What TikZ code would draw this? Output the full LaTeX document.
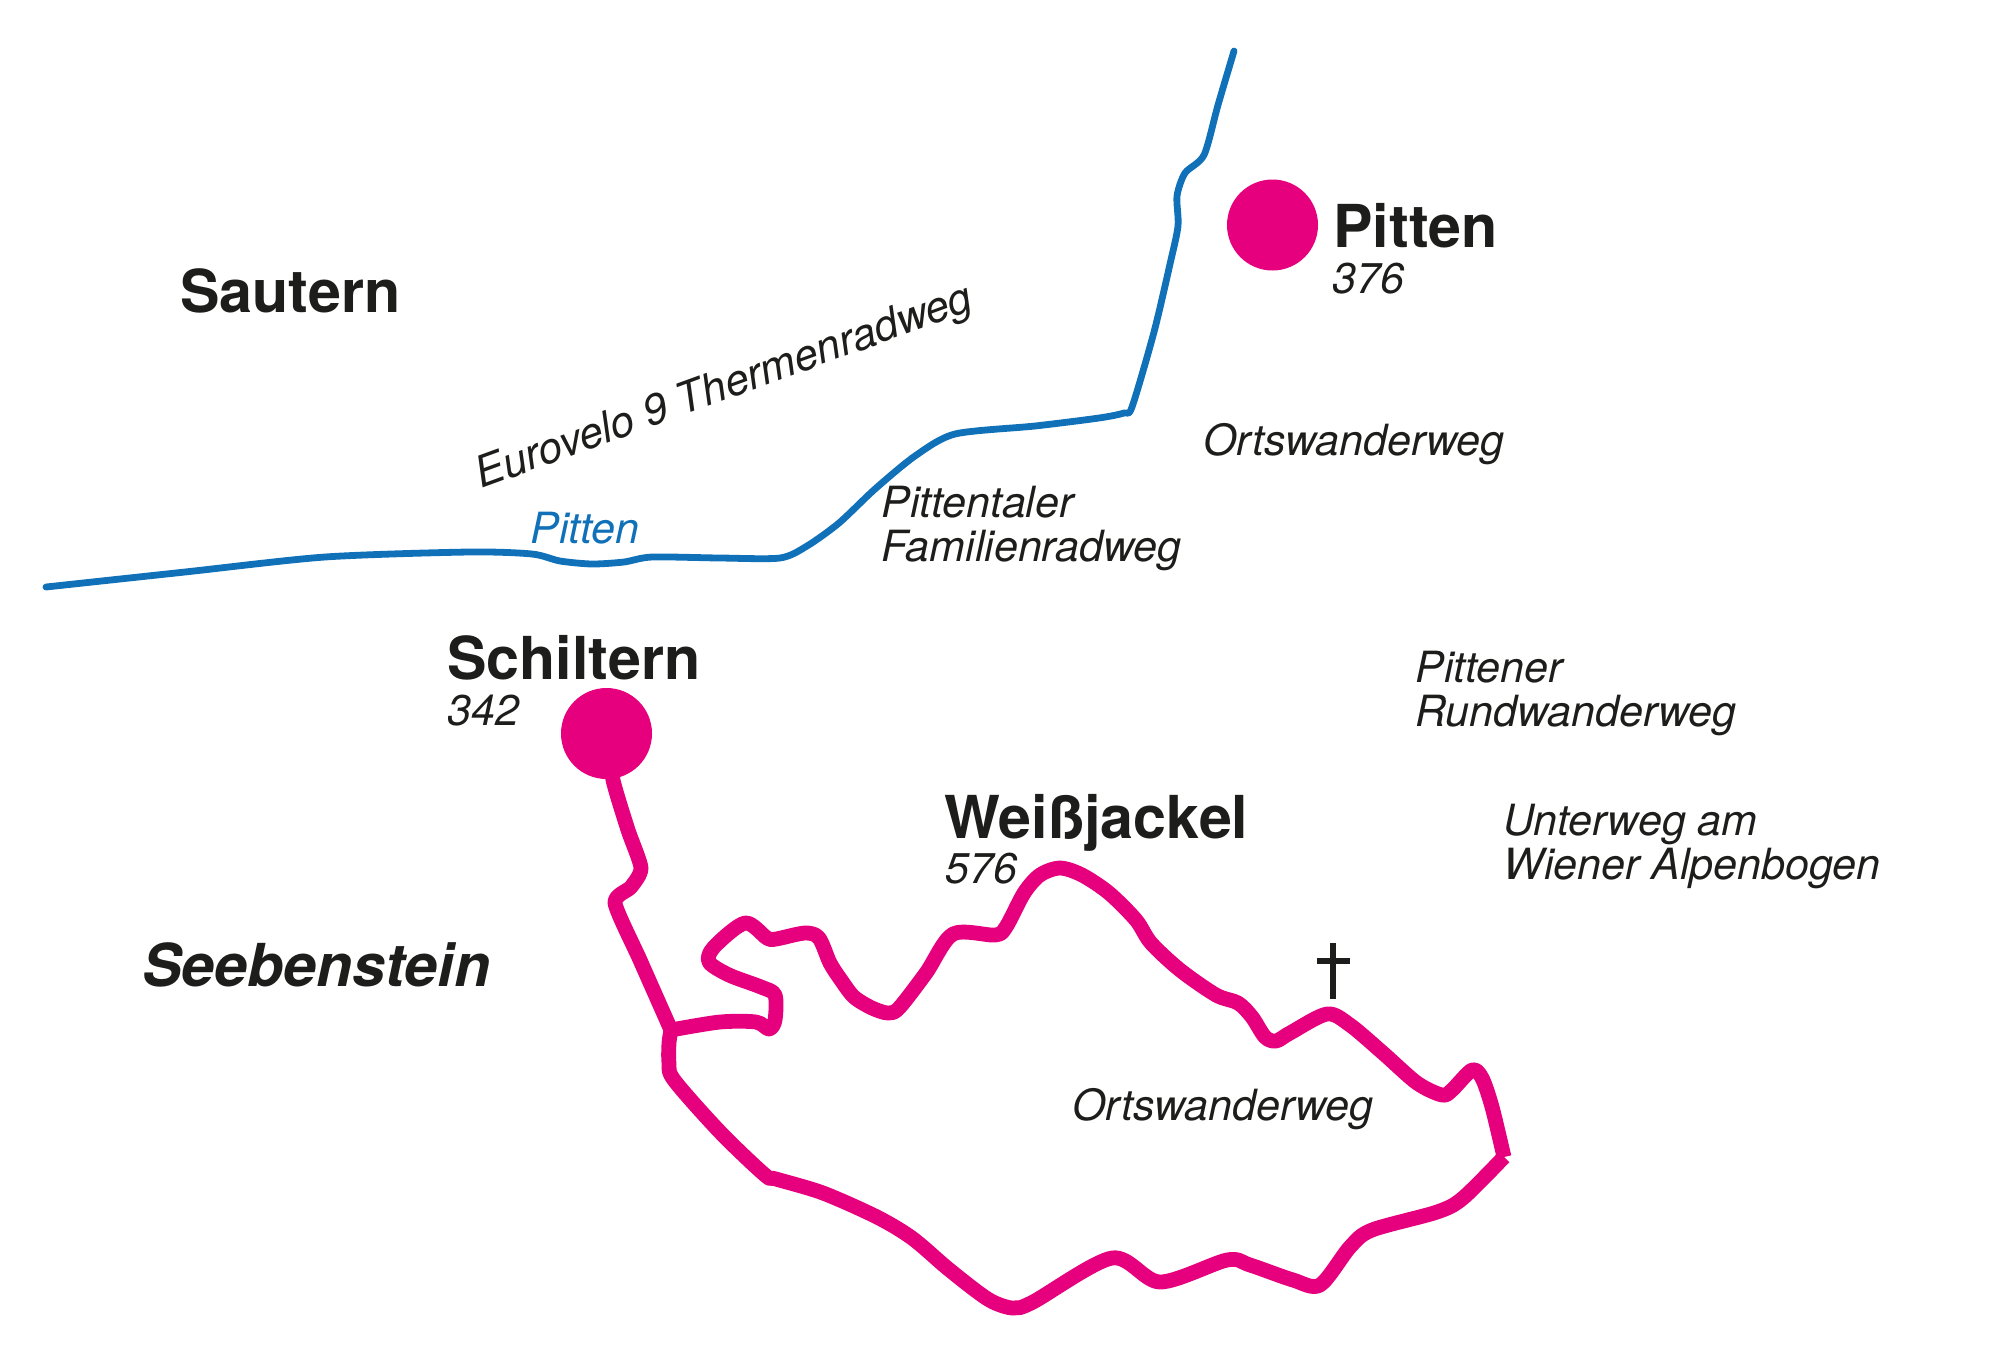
\documentclass[tikz,border=0pt]{standalone}
\usepackage{fontspec}
\setmainfont{TeX Gyre Heros}
\definecolor{pinkroute}{HTML}{E6007E}
\definecolor{bluewater}{HTML}{1070B8}
\definecolor{inktext}{HTML}{1D1D1B}
\tikzset{
  place/.style={anchor=base west,inner sep=0pt,text=inktext,font=\fontsize{29.6}{32}\selectfont\bfseries},
  placeit/.style={anchor=base west,inner sep=0pt,text=inktext,font=\fontsize{29.6}{32}\selectfont\bfseries\itshape},
  lab/.style={anchor=base west,inner sep=0pt,text=inktext,font=\fontsize{21.5}{21.76}\selectfont\itshape,align=left},
  dot/.style={circle,fill=pinkroute,minimum size=45.5pt,inner sep=0pt},
  route/.style={draw=pinkroute,line width=7.4pt,line join=round,line cap=butt},
  river/.style={draw=bluewater,line width=3.4pt,line join=round,line cap=round},
}
\begin{document}
\begin{tikzpicture}[x=0.5pt,y=-0.5pt]
\useasboundingbox (0,0) rectangle (2000,1371);
% river
\draw[river] plot[smooth,tension=0.45] coordinates {(46,587) (185,572) (325,557) (469,552) (532,554) (560,561) (592,564) (624,562) (652,557) (720,558) (780,558) (807,546) (839,523) (875,489) (915,456) (955,434) (1035,426) (1099,418) (1124,413) (1132,407) (1154,332) (1170,264) (1178,226) (1177,196) (1185,173) (1204,155) (1218,105) (1234,51)};
% routes
\node[dot] (schiltern) at (606.5,733.5) {};
\node[dot] (pittendot) at (1272.5,225) {};
\coordinate (junction) at (671,1030);
\coordinate (corner) at (1504,1157);
\draw[route] plot[smooth,tension=0.4] coordinates {(schiltern) (613,780) (628,830) (641,868) (631,887) (615,903) (640,960) (671,1030)};
\draw[route] plot[smooth,tension=0.5] coordinates {(junction) (720,1022) (756,1022) (769,1029) (775,1020) (775,995) (761,987) (729,975) (709,962) (714,947) (745,923) (767,938) (776,939) (805,933) (819,938) (830,963) (841,980) (854,997) (872,1008) (888,1013) (899,1008) (926,973) (953,934) (995,935) (1006,927) (1024,893) (1040,875) (1060,868) (1082,875) (1109,893) (1136,920) (1151,943) (1180,970) (1216,995) (1238,1003) (1252,1017) (1265,1037) (1276,1041) (1290,1033) (1327,1014) (1350,1025) (1383,1053) (1417,1083) (1442,1095) (1452,1090) (1472,1070) (1482,1078) (1492,1107) (corner)};
\draw[route] plot[smooth,tension=0.5] coordinates {(corner) (1463,1198) (1437,1212) (1372,1230) (1350,1247) (1320,1285) (1293,1280) (1250,1265) (1227,1260) (1160,1282) (1112,1258) (1033,1302) (1013,1308) (993,1302) (975,1290) (946,1267) (912,1238) (877,1217) (823,1193) (776,1179) (765,1175) (720,1132) (674,1080) (669,1063) (669,1043) (junction)};
% cross
\draw[inktext,line width=2.7pt] (1333,943) -- (1333,999);
\draw[inktext,line width=2.7pt] (1317,961) -- (1350,961);
% places
\node[place] (sautern) at (180,312) {Sautern};
\node[place] (pitten) at (1333,247) {Pitten};
\node[place] (schilternl) at (447,679) {Schiltern};
\node[place] (weiss) at (944,838) {Weißjackel};
\node[placeit] (seeb) at (142,986) {Seebenstein};
\node[lab] (n376) at (1332,293) {376};
\node[lab] (n342) at (447,725) {342};
\node[lab] (n576) at (945,883) {576};
\node[lab] (o1) at (1203,455) {Ortswanderweg};
\node[lab] (o2) at (1072,1120) {Ortswanderweg};
\node[lab,text=bluewater] (pr) at (530,543) {Pitten};
\node[lab,rotate=20,anchor=base west] (euro) at (481,489) {Eurovelo 9 Thermenradweg};
\node[lab] (pf) at (881,561) {Pittentaler\\Familienradweg};
\node[lab] (pw) at (1415,726) {Pittener\\Rundwanderweg};
\node[lab] (ua) at (1503,879) {Unterweg am\\Wiener Alpenbogen};
\end{tikzpicture}
\end{document}
